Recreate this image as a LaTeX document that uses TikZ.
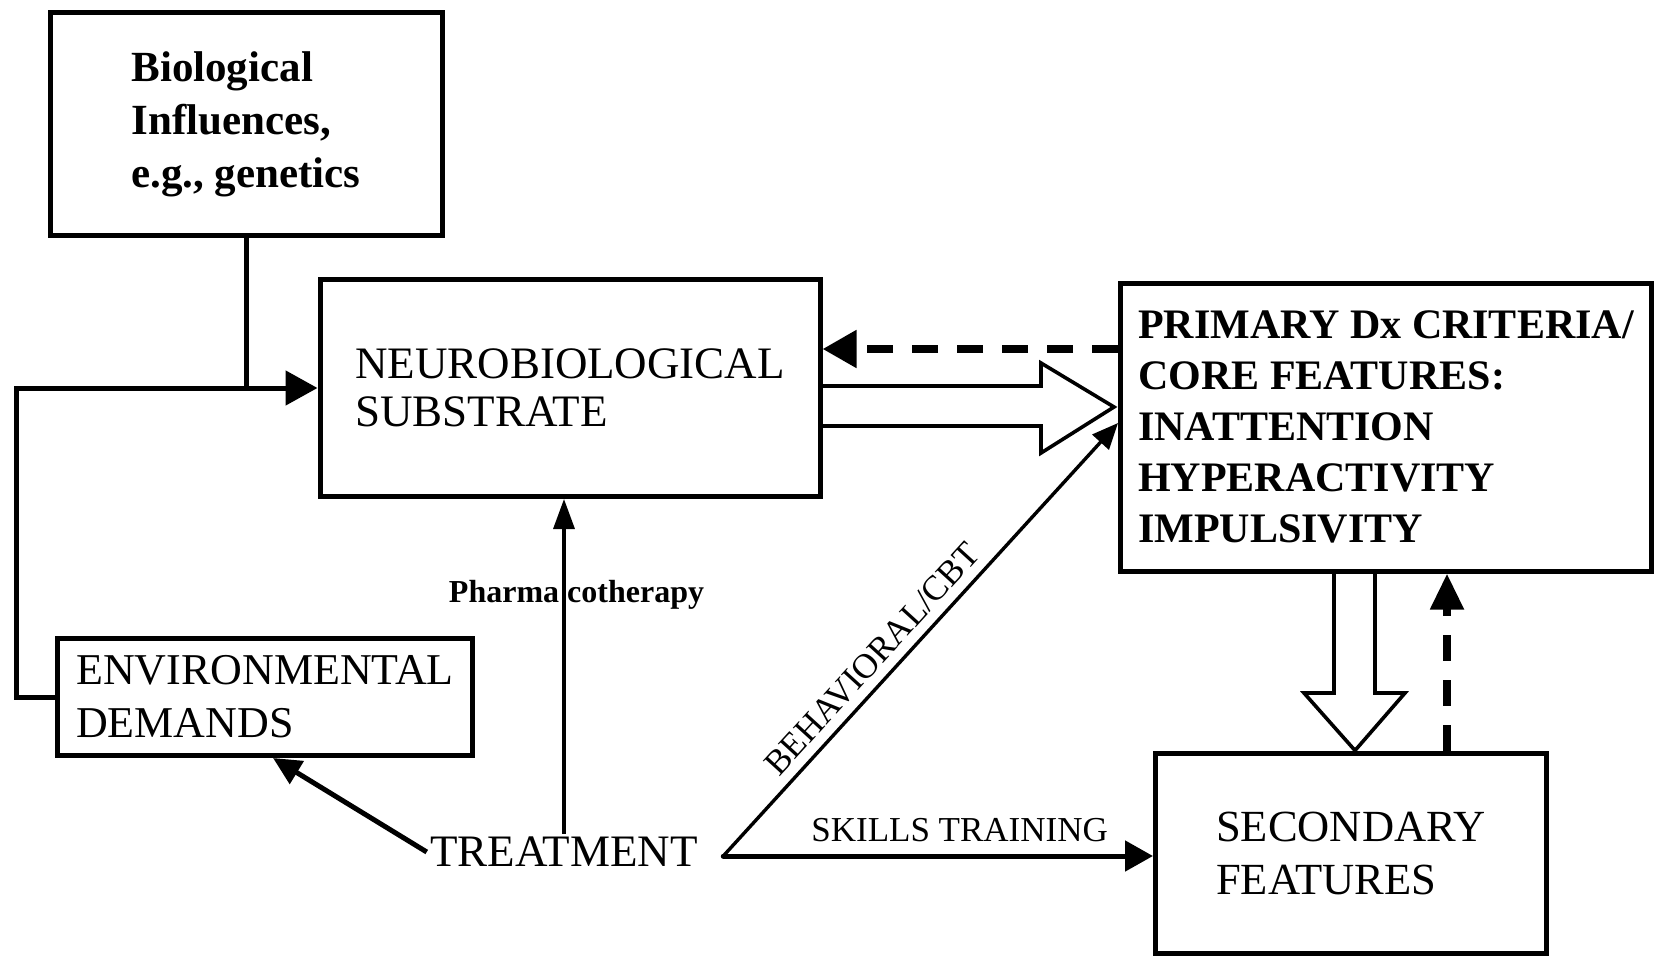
\documentclass[tikz,border=0pt]{standalone}
\usepackage{fontspec}
\setmainfont{Liberation Serif}
\usetikzlibrary{arrows.meta}
\usetikzlibrary{calc}
\usetikzlibrary{positioning}
\newcommand\fsz[2]{\fontsize{#1}{#2}\selectfont}

\begin{document}
\begin{tikzpicture}[
  x=1pt, y=-1pt,
  box/.style = {draw, line width=5pt, align=left, inner sep=0pt},
  conn/.style = {line width=5pt},
  thin conn/.style = {line width=3.4pt},
  feedback/.style = {line width=8pt, dash pattern=on 26pt off 19pt},
  hollow/.style = {line width=3.6pt, line join=miter}
  ]
	\useasboundingbox (0,0) rectangle (1658,958);

	\node[box, minimum width=392pt, minimum height=222pt, font=\fsz{43pt}{53pt}\bfseries] (bio) at (246,124) {Biological\\Influences,\\e.g., genetics};
	\node[box, minimum width=500pt, minimum height=217pt, font=\fsz{45pt}{48pt}] (neuro) at (570,388) {NEUROBIOLOGICAL\\SUBSTRATE};
	\node[box, minimum width=531pt, minimum height=288pt, font=\fsz{42pt}{51pt}\bfseries] (prim) at (1386,427) {PRIMARY Dx CRITERIA/\\CORE FEATURES:\\INATTENTION\\HYPERACTIVITY\\IMPULSIVITY};
	\node[box, minimum width=415pt, minimum height=117pt, font=\fsz{44pt}{53pt}] (env) at (265,697) {ENVIRONMENTAL\\DEMANDS};
	\node[box, minimum width=391pt, minimum height=200pt, font=\fsz{44.5pt}{53pt}] (sec) at (1351,853) {SECONDARY\\FEATURES};
	\node[font=\fsz{45pt}{54pt}] (treat) at (564,852) {TREATMENT};

	\coordinate (corner) at (16,388);
	\coordinate (fork) at ($(treat.east)+(22,4)$);

	% inputs to the substrate
	\draw[conn, -{Triangle[length=32pt,width=34pt]}] (bio.south) |- (neuro.west);
	\draw[conn] (env.west) -| (corner) -- (bio.south |- neuro.west);

	% substrate -> core features
	\draw[hollow] (neuro.east |- 0,386) -- (1041,386) -- (1041,363) -- ($(prim.west |- 0,407)+(-4,0)$)
		-- (1041,453) -- (1041,426) -- (neuro.east |- 0,426);
	\draw[feedback, -{Triangle[length=34pt,width=36pt]}] (prim.west |- 0,349) -- (neuro.east |- 0,349);

	% core -> secondary
	\draw[hollow] (prim.south -| 1334,0) -- (1334,693) -- (1304,693) -- (sec.north -| 1355,0)
		-- (1405,693) -- (1375,693) -- (prim.south -| 1375,0);
	\draw[feedback, -{Triangle[length=36pt,width=32pt]}] (sec.north -| 1447,0) -- (prim.south -| 1447,0);

	% treatment
	\draw[thin conn, -{Triangle[length=30pt,width=21pt]}] (treat.north)
		-- node[pos=0.714, xshift=12.5pt, font=\fsz{32pt}{38pt}\bfseries] (pharma) {Pharma cotherapy} (treat.north |- neuro.south);
	\draw[conn, -{Triangle[length=28pt,width=26pt]}] (treat.west) -- ($(env.south)+(8,0)$);
	\draw[thin conn, line cap=round, -{Triangle[length=26pt,width=22pt]}] (fork)
		-- node[pos=0.42, sloped, above=6pt, font=\fsz{35pt}{40pt}] (cbt) {BEHAVIORAL/CBT} ($(prim.west)+(0,-4)$);
	\draw[conn, line cap=round, -{Triangle[length=28pt,width=30pt]}] (fork)
		-- node[pos=0.55, above=8pt, font=\fsz{35pt}{40pt}] (skills) {SKILLS TRAINING} (sec.west |- fork);

\end{tikzpicture}
\end{document}
